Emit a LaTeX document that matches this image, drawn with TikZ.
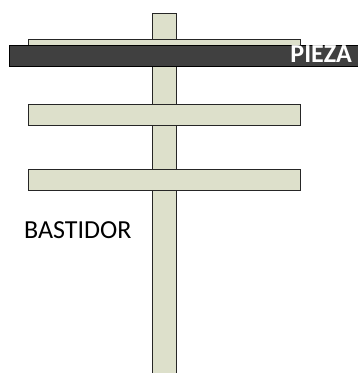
\documentclass[tikz,border=0pt]{standalone}
\usepackage{fontspec}
\setmainfont{Carlito}
\definecolor{madera}{HTML}{DDE0CB}
\definecolor{pieza}{HTML}{404040}
\tikzset{
    barra/.style={fill=madera, draw=black!85, line width=0.9pt},
    chapa/.style={fill=pieza, draw=black, line width=0.9pt}
}
\begin{document}
\begin{tikzpicture}[x=1pt,y=-1pt]
    \useasboundingbox (0,0) rectangle (357,373);
    \draw[barra] (152.5,376) -- (152.5,13) -- (176,13) -- (176,376);
    \draw[barra] (28.5,104.5) rectangle (300,125.5);
    \draw[barra] (28.5,169.5) rectangle (300,190.5);
    \draw[barra] (28.5,39.5) rectangle (300,50);
    \draw[chapa] (9.5,45) rectangle (360,66.5);
    \node[anchor=base east, text=white, font=\bfseries\fontsize{26}{28}\selectfont, inner sep=0pt] (piezatxt) at (352,62) {PIEZA};
    \node[anchor=base west, font=\fontsize{26}{28}\selectfont, inner sep=0pt] (bastidor) at (24,238) {BASTIDOR};
\end{tikzpicture}
\end{document}
